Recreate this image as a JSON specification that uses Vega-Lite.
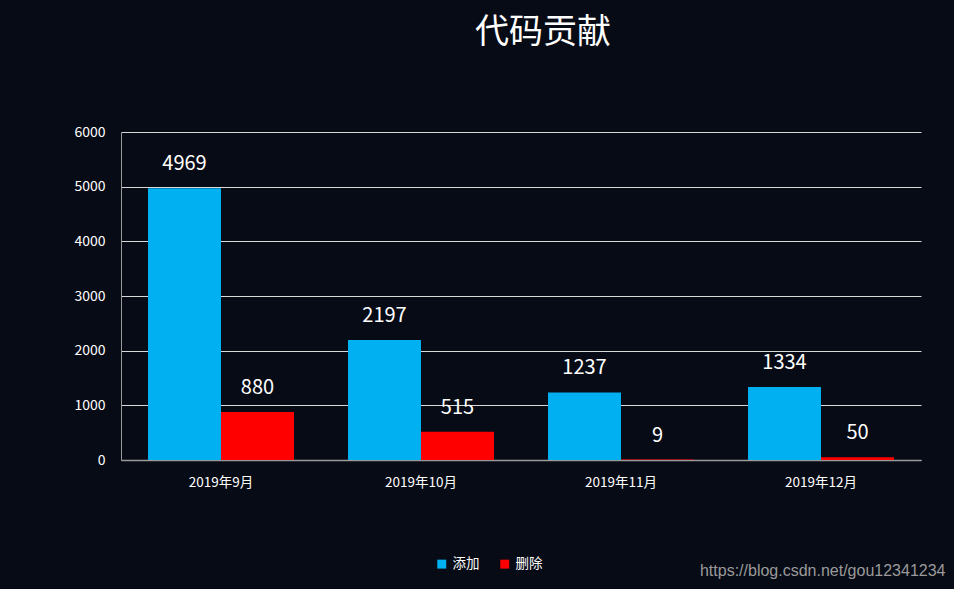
{
  "$schema": "https://vega.github.io/schema/vega-lite/v6.json",
  "width": 800,
  "height": 328,
  "autosize": {"type": "none"},
  "padding": {"left": 121, "top": 132, "right": 33, "bottom": 129},
  "background": "#070b16",
  "title": {
    "text": "代码贡献",
    "fontSize": 34,
    "font": "Noto Sans CJK SC",
    "fontWeight": "normal",
    "color": "#ffffff",
    "anchor": "middle",
    "offset": 75,
    "dx": 22
  },
  "data": {
    "values": [
      {"month": "2019年9月", "series": "添加", "value": 4969},
      {"month": "2019年9月", "series": "删除", "value": 880},
      {"month": "2019年10月", "series": "添加", "value": 2197},
      {"month": "2019年10月", "series": "删除", "value": 515},
      {"month": "2019年11月", "series": "添加", "value": 1237},
      {"month": "2019年11月", "series": "删除", "value": 9},
      {"month": "2019年12月", "series": "添加", "value": 1334},
      {"month": "2019年12月", "series": "删除", "value": 50}
    ]
  },
  "encoding": {
    "x": {
      "field": "month",
      "type": "nominal",
      "sort": ["2019年9月", "2019年10月", "2019年11月", "2019年12月"],
      "scale": {"paddingInner": 0.27, "paddingOuter": 0.135},
      "axis": {
        "title": "https://blog.csdn.net/gou12341234",
        "titleFont": "Liberation Sans",
        "titleFontSize": 16,
        "titleFontWeight": "normal",
        "titleColor": "#9a9a9a",
        "titleAnchor": "end",
        "titleAlign": "right",
        "titleBaseline": "middle",
        "titleX": 824,
        "titleY": 110,
        "labelAngle": 0,
        "labelColor": "#ffffff",
        "labelFont": "Noto Sans CJK SC",
        "labelFontSize": 13.5,
        "labelPadding": 15,
        "ticks": false,
        "domainColor": "#9a9a9a",
        "domainWidth": 1.5
      }
    },
    "xOffset": {
      "field": "series",
      "type": "nominal",
      "sort": ["添加", "删除"],
      "scale": {"paddingInner": 0, "paddingOuter": 0}
    },
    "y": {
      "field": "value",
      "type": "quantitative",
      "scale": {"domain": [0, 6000], "nice": false},
      "axis": {
        "title": null,
        "values": [0, 1000, 2000, 3000, 4000, 5000, 6000],
        "format": "d",
        "labelColor": "#ffffff",
        "labelFont": "Noto Sans CJK SC",
        "labelFontSize": 14,
        "labelPadding": 16,
        "ticks": false,
        "domainColor": "#9a9a9a",
        "gridColor": "#d9d9d9",
        "gridWidth": 1,
        "gridOpacity": 1
      }
    }
  },
  "layer": [
    {
      "mark": {"type": "bar"},
      "encoding": {
        "color": {
          "field": "series",
          "type": "nominal",
          "scale": {"domain": ["添加", "删除"], "range": ["#00b0f0", "#ff0000"]},
          "legend": {
            "title": null,
            "orient": "none",
            "direction": "horizontal",
            "legendX": 314,
            "legendY": 425,
            "symbolType": "square",
            "symbolSize": 80,
            "symbolStrokeWidth": 0,
            "symbolOpacity": 1,
            "labelColor": "#ffffff",
            "labelFont": "Noto Sans CJK SC",
            "labelFontSize": 13.5,
            "columnPadding": 18
          }
        }
      }
    },
    {
      "mark": {
        "type": "text",
        "color": "#ffffff",
        "fontSize": 20,
        "font": "Noto Sans CJK SC",
        "baseline": "middle",
        "dy": -24
      },
      "encoding": {"text": {"field": "value", "type": "quantitative"}}
    }
  ],
  "config": {"view": {"stroke": null}}
}
